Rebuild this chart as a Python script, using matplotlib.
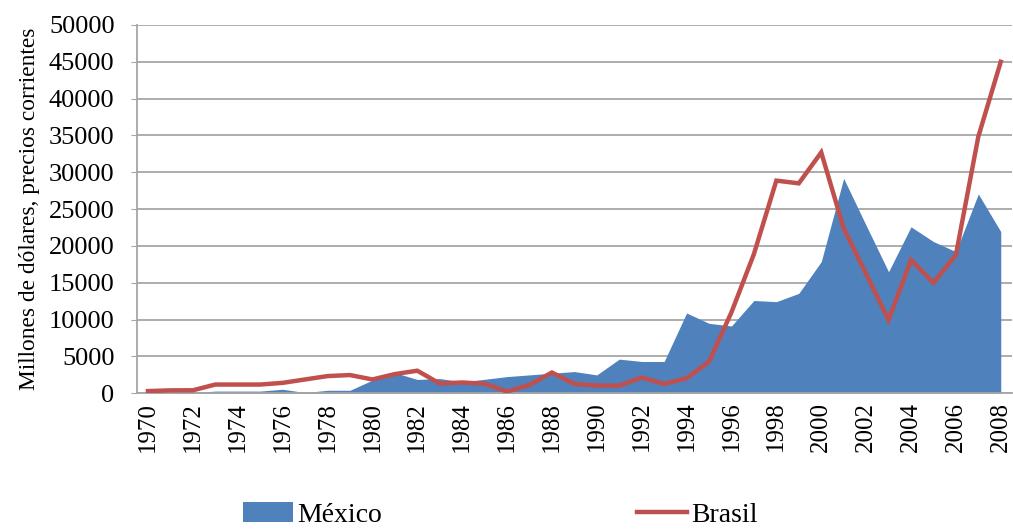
import matplotlib.pyplot as plt
from matplotlib.patches import Patch
from matplotlib.lines import Line2D

# Inversión extranjera directa, millones de dólares corrientes
years = list(range(1970, 2009))
mexico = [50, 80, 100, 300, 300, 300, 550, 100, 410, 410,
          1790, 2800, 1880, 2000, 1560, 1900, 2270, 2500, 2730, 2950,
          2500, 4640, 4320, 4320, 10900, 9500, 9140, 12600, 12440, 13570,
          17870, 29180, 22800, 16500, 22600, 20600, 19230, 27060, 21950]
brasil = [300, 400, 410, 1190, 1190, 1190, 1420, 1880, 2340, 2480,
          1880, 2610, 3070, 1330, 1470, 1300, 230, 1140, 2820, 1270,
          1050, 1050, 2140, 1270, 2040, 4300, 11000, 18900, 28870, 28500,
          32700, 22400, 16200, 9950, 18100, 15000, 18780, 34840, 45000]
y_ticks = list(range(0, 50001, 5000))

blue = "#4F81BD"
red = "#C0504D"

plt.rcParams["font.family"] = ["Liberation Serif", "DejaVu Serif"]

fig = plt.figure(figsize=(10.13, 5.31), dpi=100)
ax = fig.add_axes([0.135, 0.2593, 0.864, 0.6937])

x = list(range(len(years)))
ax.fill_between(x, 0, mexico, color=blue, linewidth=0, zorder=2)
ax.plot(x, brasil, color=red, linewidth=3.2, solid_joinstyle="miter", zorder=3)

ax.set_xlim(-0.5, len(years) - 0.5)
ax.set_ylim(0, 50000)
ax.set_yticks(y_ticks)
ax.set_yticklabels([str(v) for v in y_ticks], fontsize=19)
ax.set_xticks(x[::2])
ax.set_xticklabels([str(y) for y in years[::2]], rotation=90, fontsize=18)

ax.grid(axis="y", color="#a6a6a6", linewidth=1.3, zorder=1)
ax.set_axisbelow(True)
for side in ["top", "right"]:
    ax.spines[side].set_visible(False)
for side in ["left", "bottom"]:
    ax.spines[side].set_color("#a6a6a6")
    ax.spines[side].set_linewidth(1.3)
ax.tick_params(axis="y", length=4, color="#a6a6a6", pad=12)
ax.tick_params(axis="x", length=0, pad=6)

ax.set_ylabel("Millones de dólares, precios corrientes", fontsize=16.8, labelpad=6)

handles = [Patch(facecolor=blue, edgecolor="none"),
           Line2D([0], [0], color=red, linewidth=3.2)]
fig.legend(handles, ["México", "Brasil"], loc="center", ncol=2,
           bbox_to_anchor=(0.494, 0.03), frameon=False, fontsize=20,
           handlelength=1.8, handletextpad=0.15, columnspacing=9.2)

fig.savefig("out.png", dpi=100)
